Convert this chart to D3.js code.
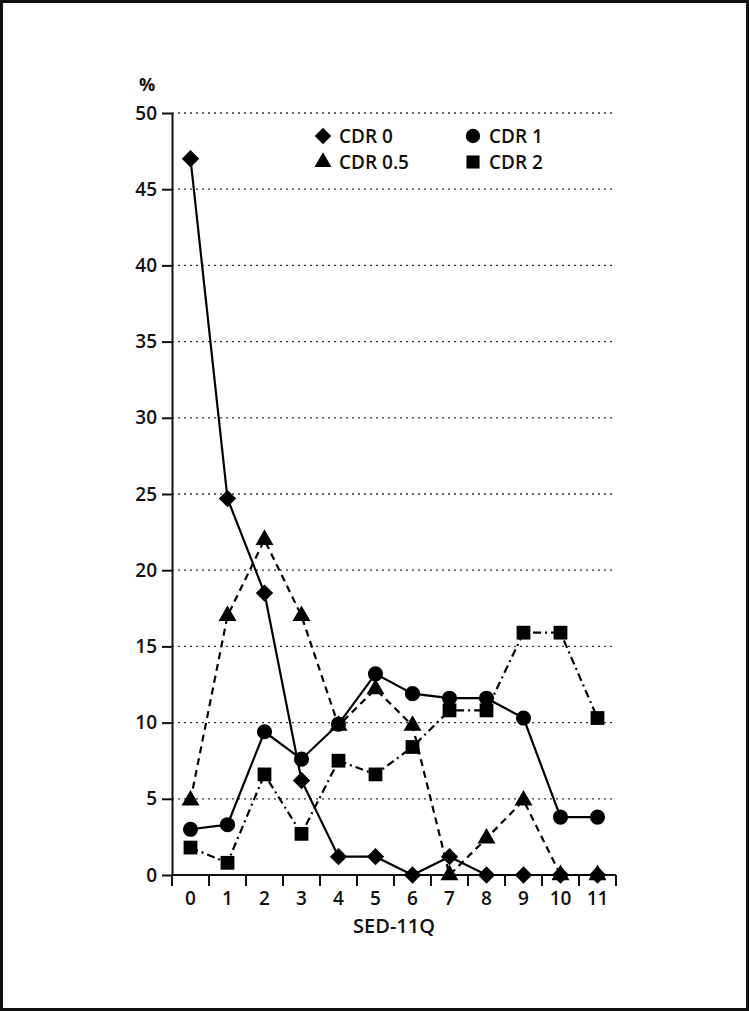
<!DOCTYPE html>
<html>
<head>
<meta charset="utf-8">
<script src="https://d3js.org/d3.v7.min.js"></script>
<style>
  body { margin: 0; background: #fff; }
  text { font-family: "Open Sans", sans-serif; fill: #111; font-weight: 600; }
</style>
</head>
<body>
<svg id="chart"></svg>
<script>
// SED-11Q scores on the x axis, % of subjects on the y axis
var scores = ["0", "1", "2", "3", "4", "5", "6", "7", "8", "9", "10", "11"];
var yTicks = [0, 5, 10, 15, 20, 25, 30, 35, 40, 45, 50];

var cdr0   = [47, 24.7, 18.5, 6.2, 1.2, 1.2, 0, 1.2, 0, 0, 0, 0];
var cdr05  = [4.9, 17, 22, 17, 9.8, 12.2, 9.8, 0, 2.4, 4.9, 0, 0];
var cdr1   = [3.0, 3.3, 9.4, 7.6, 9.9, 13.2, 11.9, 11.6, 11.6, 10.3, 3.8, 3.8];
var cdr2   = [1.8, 0.8, 6.6, 2.7, 7.5, 6.6, 8.4, 10.8, 10.8, 15.9, 15.9, 10.3];

// diamond = square turned 45 degrees
var series = [
    { name: "CDR 0",   values: cdr0,  symbol: d3.symbolSquare,   size: 150, rot: 45, dash: null },
    { name: "CDR 0.5", values: cdr05, symbol: d3.symbolTriangle, size: 140, rot: 0,  dash: "7,5" },
    { name: "CDR 1",   values: cdr1,  symbol: d3.symbolCircle,   size: 180, rot: 0,  dash: null },
    { name: "CDR 2",   values: cdr2,  symbol: d3.symbolSquare,   size: 190, rot: 0,  dash: "8,4,2,4" }
];

var W = 749, H = 1011;
var margin = { left: 172, right: 133, top: 113, bottom: 136 };

var svg = d3.select("#chart").attr("width", W).attr("height", H);

// outer frame
svg.append("rect")
    .attr("x", 1.5).attr("y", 1.5)
    .attr("width", W - 3).attr("height", H - 3)
    .attr("fill", "none").attr("stroke", "#111").attr("stroke-width", 3);

var x = d3.scaleBand().domain(scores).range([margin.left, W - margin.right]);
var y = d3.scaleLinear().domain([0, 50]).range([H - margin.bottom, margin.top]);

// dotted grid
svg.append("g")
    .selectAll("line")
    .data(yTicks.filter(d => d > 0))
    .join("line")
    .attr("x1", margin.left).attr("x2", W - margin.right)
    .attr("y1", d => y(d)).attr("y2", d => y(d))
    .attr("stroke", "#333").attr("stroke-width", 1.3)
    .attr("stroke-dasharray", "2,4");

// y axis
var yAxis = svg.append("g")
    .attr("transform", "translate(" + margin.left + ",0)")
    .call(d3.axisLeft(y).tickValues(yTicks).tickSize(10).tickSizeOuter(0).tickPadding(5));
yAxis.select(".domain").attr("stroke", "#111").attr("stroke-width", 2);
yAxis.selectAll(".tick line").attr("stroke", "#111").attr("stroke-width", 2);
yAxis.selectAll("text")
    .style("font-size", "19px").style("font-family", "Open Sans").style("font-weight", 600);

// x axis, ticks between categories
var xAxis = svg.append("g")
    .attr("transform", "translate(0," + (H - margin.bottom) + ")");
xAxis.append("line")
    .attr("x1", margin.left).attr("x2", W - margin.right)
    .attr("stroke", "#111").attr("stroke-width", 2);
var bounds = scores.map(d => x(d)).concat([x(scores[scores.length - 1]) + x.bandwidth()]);
xAxis.selectAll(".xt")
    .data(bounds)
    .join("line")
    .attr("class", "xt")
    .attr("x1", d => d).attr("x2", d => d)
    .attr("y1", 0).attr("y2", 11)
    .attr("stroke", "#111").attr("stroke-width", 2);
xAxis.selectAll(".xl")
    .data(scores)
    .join("text")
    .attr("class", "xl")
    .attr("x", d => x(d) + x.bandwidth() / 2)
    .attr("y", 30)
    .attr("text-anchor", "middle")
    .style("font-size", "19px")
    .text(d => d);

svg.append("text")
    .attr("x", x("5") + x.bandwidth())
    .attr("y", H - margin.bottom + 58)
    .attr("text-anchor", "middle")
    .style("font-size", "20px")
    .text("SED-11Q");

svg.append("text")
    .attr("x", 147).attr("y", 91)
    .attr("text-anchor", "middle")
    .style("font-size", "18px").style("font-weight", "bold")
    .text("%");

// lines
var line = d3.line()
    .x((d, i) => x(scores[i]) + x.bandwidth() / 2)
    .y(d => y(d));

series.forEach(function (s) {
    svg.append("path")
        .datum(s.values)
        .attr("fill", "none")
        .attr("stroke", "#000")
        .attr("stroke-width", 2.2)
        .attr("stroke-dasharray", s.dash)
        .attr("d", line);
});

// markers
series.forEach(function (s) {
    svg.append("g")
        .selectAll("path")
        .data(s.values)
        .join("path")
        .attr("transform", (d, i) => "translate(" + (x(scores[i]) + x.bandwidth() / 2) + "," + y(d) + ") rotate(" + s.rot + ")")
        .attr("d", d3.symbol().type(s.symbol).size(s.size))
        .attr("fill", "#000");
});

// legend
var legendPos = [[323, 136], [323, 162], [473, 136], [473, 162]];
series.forEach(function (s, i) {
    var p = legendPos[i];
    svg.append("path")
        .attr("transform", "translate(" + p[0] + "," + p[1] + ") rotate(" + s.rot + ")")
        .attr("d", d3.symbol().type(s.symbol).size(s.size * 0.9))
        .attr("fill", "#000");
    svg.append("text")
        .attr("x", p[0] + 16).attr("y", p[1] + 7)
        .style("font-size", "19px")
        .text(s.name);
});
</script>
</body>
</html>
